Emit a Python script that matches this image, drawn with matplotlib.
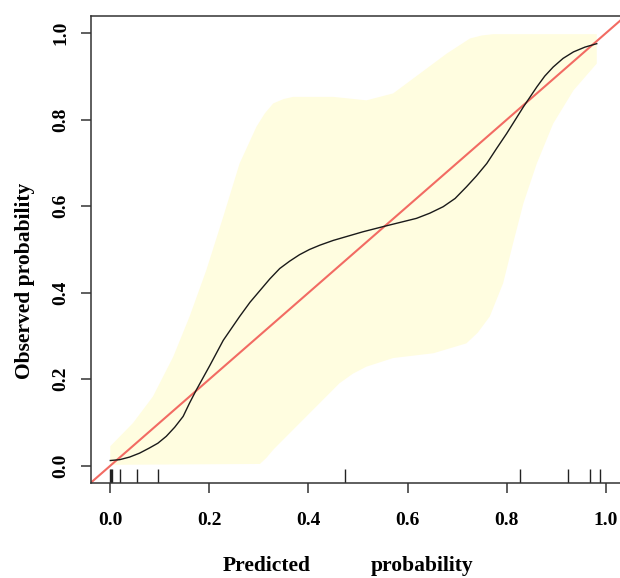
import numpy as np
import matplotlib.pyplot as plt

# calibration curve (predicted vs observed)
curve_x = [0.0, 0.019, 0.039, 0.059, 0.079, 0.096, 0.113, 0.130, 0.147, 0.160,
           0.174, 0.201, 0.228, 0.261, 0.282, 0.302, 0.322, 0.342, 0.362, 0.382,
           0.402, 0.423, 0.450, 0.477, 0.510, 0.551, 0.618, 0.645, 0.672, 0.696,
           0.719, 0.739, 0.760, 0.780, 0.800, 0.817, 0.834, 0.861, 0.877, 0.894,
           0.914, 0.935, 0.958, 0.982]
curve_y = [0.012, 0.014, 0.020, 0.029, 0.041, 0.052, 0.068, 0.089, 0.114, 0.145,
           0.176, 0.232, 0.290, 0.345, 0.378, 0.405, 0.432, 0.456, 0.473, 0.488,
           0.500, 0.510, 0.521, 0.530, 0.541, 0.553, 0.572, 0.584, 0.599, 0.618,
           0.645, 0.670, 0.699, 0.734, 0.768, 0.799, 0.830, 0.876, 0.901, 0.922,
           0.942, 0.957, 0.968, 0.976]

# confidence band
upper_x = [0.0, 0.046, 0.086, 0.127, 0.160, 0.194, 0.228, 0.261, 0.295, 0.312,
           0.329, 0.350, 0.369, 0.450, 0.517, 0.571, 0.625, 0.679, 0.726, 0.750,
           0.773, 0.982]
upper_y = [0.045, 0.099, 0.160, 0.252, 0.345, 0.453, 0.576, 0.699, 0.784, 0.815,
           0.838, 0.848, 0.853, 0.853, 0.845, 0.861, 0.907, 0.953, 0.988, 0.995,
           0.998, 0.998]
lower_x = [0.982, 0.935, 0.894, 0.861, 0.834, 0.813, 0.793, 0.766, 0.742, 0.719,
           0.652, 0.571, 0.517, 0.490, 0.463, 0.416, 0.369, 0.329, 0.315, 0.302,
           0.0]
lower_y = [0.930, 0.868, 0.791, 0.699, 0.607, 0.514, 0.422, 0.345, 0.308, 0.283,
           0.260, 0.249, 0.229, 0.213, 0.191, 0.137, 0.083, 0.037, 0.018, 0.004,
           0.002]

# predicted probabilities shown as rug
rug_x = [0.0, 0.002, 0.004, 0.019, 0.053, 0.096, 0.473, 0.827, 0.923, 0.968, 0.988]

ticks = [0.0, 0.2, 0.4, 0.6, 0.8, 1.0]

plt.rcParams['font.family'] = ['Liberation Serif', 'DejaVu Serif']
plt.rcParams['font.weight'] = 'bold'

fig = plt.figure(figsize=(6.2, 5.78), dpi=100)
ax = fig.add_axes([90.5 / 620, 95 / 578, 535 / 620, 467 / 578])

# shaded band: upper edge left to right, lower edge back
ax.fill(upper_x + lower_x, upper_y + lower_y, color='#FFFDE0', linewidth=0)

ax.axline((0, 0), slope=1, color='#F26B63', linewidth=1.5)
ax.plot(curve_x, curve_y, color='#1a1a1a', linewidth=1.0)

ax.vlines(rug_x, 0, 0.03, transform=ax.get_xaxis_transform(),
          color='#222222', linewidth=1.0)

ax.set_xlim(-0.04, 1.04)
ax.set_ylim(-0.04, 1.04)
ax.set_xticks(ticks)
ax.set_yticks(ticks)
ax.set_xticklabels([f'{t:.1f}' for t in ticks])
ax.set_yticklabels([f'{t:.1f}' for t in ticks], rotation=90, va='center')

for s in ax.spines.values():
    s.set_color('#333333')
    s.set_linewidth(1.1)
ax.tick_params(axis='both', direction='out', length=7.2, width=1.1,
               color='#333333', labelsize=14)
ax.tick_params(axis='x', pad=14)
ax.tick_params(axis='y', pad=8)

fig.text(267 / 620, 1 - 566 / 578, 'Predicted', ha='center', va='center',
         fontsize=15.5, fontweight='bold')
fig.text(422 / 620, 1 - 566 / 578, 'probability', ha='center', va='center',
         fontsize=15.5, fontweight='bold')
fig.text(25 / 620, 1 - 281 / 578, 'Observed probability', ha='center', va='center',
         rotation=90, fontsize=15.5, fontweight='bold')

fig.savefig('out.png', dpi=100)
